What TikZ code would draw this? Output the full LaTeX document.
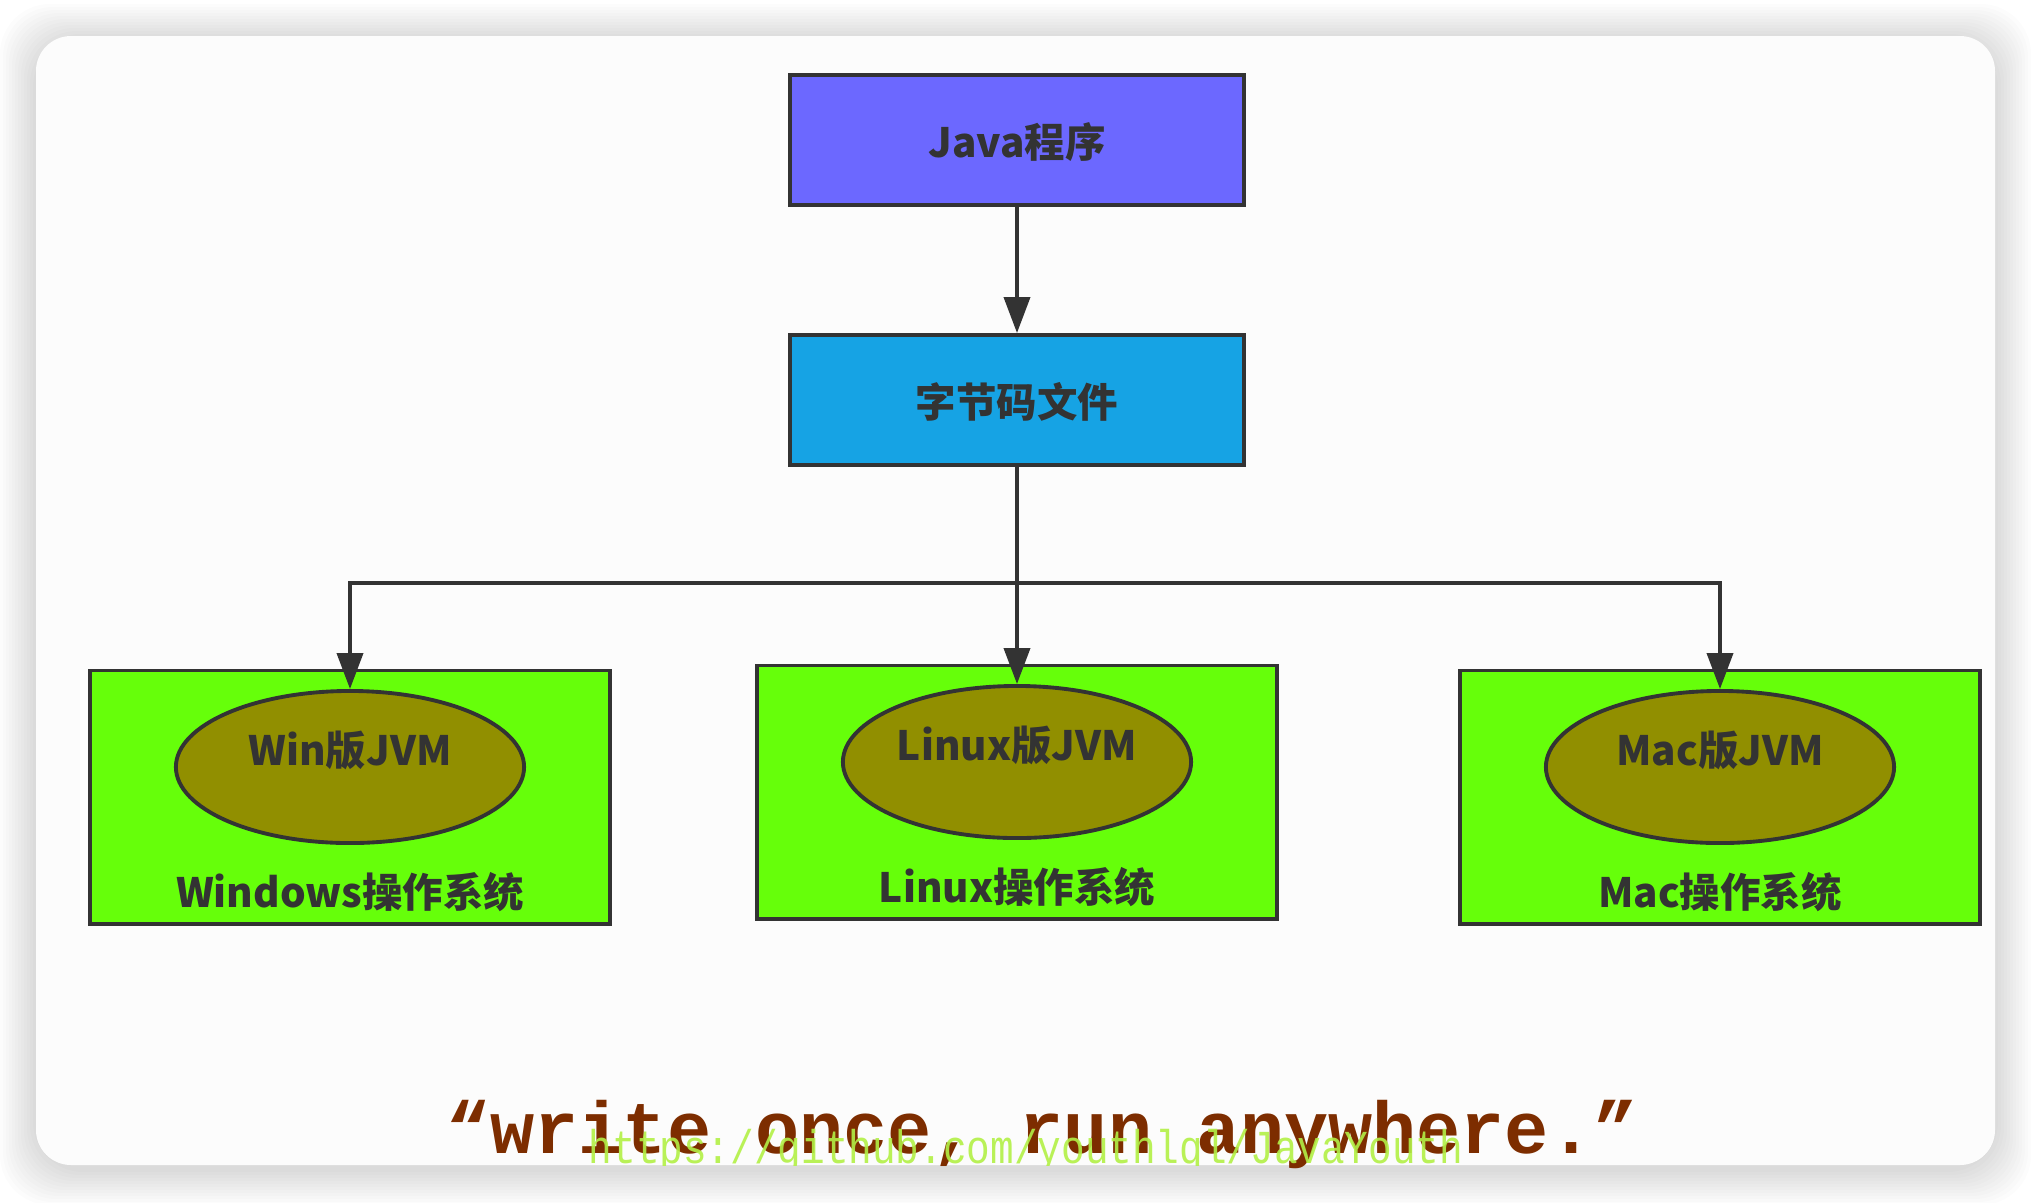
\documentclass[tikz,border=0pt]{standalone}
\usepackage{fontspec}
\usepackage{tikz}
\usetikzlibrary{arrows.meta,shapes.geometric}
\newfontfamily\cjk{Noto Sans CJK SC}
\newfontfamily\monofont{Liberation Mono}
\definecolor{javablue}{RGB}{108,104,255}
\definecolor{codeblue}{RGB}{22,163,228}
\definecolor{osgreen}{RGB}{102,255,10}
\definecolor{jvmolive}{RGB}{145,143,0}
\definecolor{edgegray}{RGB}{51,51,51}
\definecolor{quotebrown}{RGB}{125,45,0}
\definecolor{marklime}{RGB}{178,240,70}

\begin{document}
\begin{tikzpicture}[x=0.01cm,y=-0.01cm,
  box/.style={draw=edgegray,line width=1.1pt,minimum width=4.53cm,minimum height=1.3cm,inner sep=0pt,
    text height=1.1em,text depth=0.1em,
    font=\cjk\bfseries\fontsize{11.5}{13}\selectfont,text=edgegray},
  osbox/.style={draw=edgegray,line width=1.1pt,fill=osgreen,minimum width=5.19cm,minimum height=2.53cm,inner sep=0pt},
  jvm/.style={ellipse,draw=edgegray,line width=1.1pt,fill=jvmolive,minimum width=3.48cm,minimum height=1.52cm,inner sep=0pt},
  lbl/.style={font=\cjk\bfseries\fontsize{11.5}{13}\selectfont,text=edgegray,inner sep=0pt},
  link/.style={edgegray,line width=1.1pt,-{Triangle[length=0.36cm,width=0.26cm]}}]
\useasboundingbox (0,0) rectangle (2032,1202);
\fill[white] (0,0) rectangle (2032,1202);
% card and its shadow
\foreach \i in {1,...,12}
  \fill[black,opacity=0.012,rounded corners=0.5cm] ({36-3*\i},{40-3*\i}) rectangle ({1995+3*\i},{1169+3*\i});
\fill[white!99!black,rounded corners=0.35cm] (36,36) rectangle (1995,1165);

\node[box,fill=javablue] (java) at (1017,140) {Java程序};
\node[box,fill=codeblue] (bytecode) at (1017,400) {字节码文件};

\node[osbox] (winos) at (350,797) {};
\node[osbox] (linuxos) at (1017,792) {};
\node[osbox] (macos) at (1720,797) {};
\node[jvm] (winjvm) at (350,767) {};
\node[jvm] (linuxjvm) at (1017,762) {};
\node[jvm] (macjvm) at (1720,767) {};
\node[lbl] (winjvmlbl) at ([yshift=0.17cm]winjvm.center) {Win版JVM};
\node[lbl] (linuxjvmlbl) at ([yshift=0.17cm]linuxjvm.center) {Linux版JVM};
\node[lbl] (macjvmlbl) at ([yshift=0.17cm]macjvm.center) {Mac版JVM};
\node[lbl] (winlbl) at ([yshift=0.33cm]winos.south) {Windows操作系统};
\node[lbl] (linuxlbl) at ([yshift=0.33cm]linuxos.south) {Linux操作系统};
\node[lbl] (maclbl) at ([yshift=0.33cm]macos.south) {Mac操作系统};

\draw[link] (java) -- (bytecode);
\coordinate (split) at (1017,583);
\draw[edgegray,line width=1.1pt] (bytecode.south) -- (split);
\draw[link] (split) -| (winjvm.north);
\draw[link] (bytecode.south) -- (linuxjvm.north);
\draw[link] (split) -| (macjvm.north);

\node[font=\monofont\bfseries\fontsize{20.9}{24}\selectfont,text=quotebrown,anchor=base,inner sep=0pt] (motto) at (1042,1153) {“write once, run anywhere.”};
\begin{scope}
\clip[rounded corners=0.35cm] (36,36) rectangle (1995,1165);
\node[font=\monofont\fontsize{11.2}{13}\selectfont,text=marklime,opacity=0.9,anchor=base,inner sep=0pt,yscale=1.2] (mark) at (1026,1163) {https://github.com/youthlql/JavaYouth};
\end{scope}
\end{tikzpicture}
\end{document}
